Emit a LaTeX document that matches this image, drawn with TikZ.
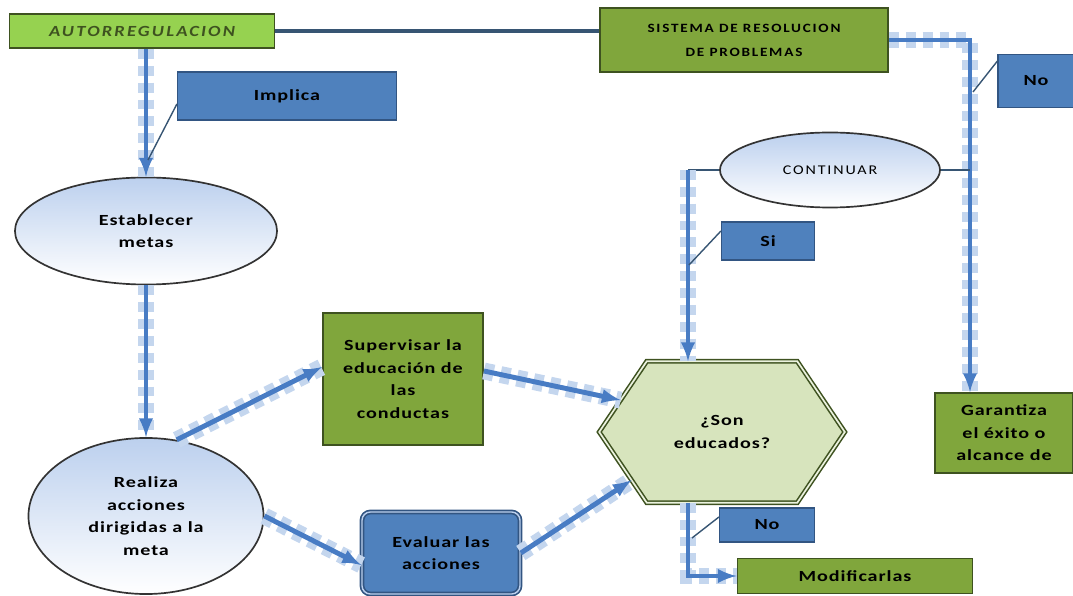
\documentclass[tikz,border=0pt]{standalone}
\usepackage{fontspec}
\setmainfont{Carlito}
\newfontfamily\boxfont{Carlito}[FakeStretch=1.3, LetterSpace=6.0]
\newfontfamily\capsfont{Carlito}[FakeStretch=1.2, LetterSpace=14.0]
\usetikzlibrary{shapes.geometric, calc}

\definecolor{olivebox}{RGB}{128,166,60}
\definecolor{olivedark}{RGB}{62,82,32}
\definecolor{limebox}{RGB}{150,210,80}
\definecolor{bluefill}{RGB}{79,129,189}
\definecolor{bluedark}{RGB}{50,85,130}
\definecolor{flowblue}{RGB}{72,124,196}
\definecolor{flowshade}{RGB}{196,214,238}
\definecolor{hexfill}{RGB}{215,228,189}
\definecolor{ellblue}{RGB}{188,208,238}
\definecolor{linkgray}{RGB}{55,85,115}

\begin{document}
\begin{tikzpicture}[x=0.025cm, y=-0.025cm, >=latex,
    greenrect/.style={rectangle, draw=olivedark, line width=1.3pt, fill=olivebox,
        font=\boxfont\bfseries\fontsize{11}{16}\selectfont, align=center},
    bluerect/.style={rectangle, draw=bluedark, line width=0.8pt, fill=bluefill,
        font=\boxfont\bfseries\fontsize{11}{16}\selectfont, align=center},
    goal/.style={ellipse, draw=black!80, line width=1.2pt, top color=ellblue,
        bottom color=white, font=\boxfont\bfseries\fontsize{11}{16}\selectfont, align=center},
    flow/.style={->, draw=flowblue, line width=3.5pt,
        preaction={-, draw=flowshade, line width=12pt, dash pattern=on 7pt off 5pt}},
    callout/.style={draw=linkgray, line width=1pt},
    link/.style={draw=linkgray, line width=2.5pt}]
    \useasboundingbox (0,0) rectangle (1073,596);

    % top row
    \node[greenrect, fill=limebox, text=olivedark, minimum width=6.625cm, minimum height=0.85cm,
        font=\capsfont\bfseries\itshape\fontsize{11}{12}\selectfont] (auto) at (142,31) {AUTORREGULACION};
    \node[greenrect, minimum width=7.2cm, minimum height=1.6cm,
        font=\capsfont\bfseries\fontsize{9}{17}\selectfont] (sis) at (744,40) {SISTEMA DE RESOLUCION\\DE PROBLEMAS};
    \node[bluerect, minimum width=5.475cm, minimum height=1.2cm] (impl) at (287,96) {Implica};
    \node[bluerect, minimum width=1.9cm, minimum height=1.325cm, text width=1.2cm] (notop) at (1036,81) {No};

    % left column
    \node[goal, minimum width=6.55cm, minimum height=2.675cm] (estab) at (146,231) {Establecer\\metas};
    \node[goal, minimum width=5.875cm, minimum height=3.9cm] (real) at (146,516) {Realiza\\acciones\\dirigidas a la\\meta};
    \node[greenrect, minimum width=4cm, minimum height=3.3cm] (super) at (403,379)
        {Supervisar la\\educación de\\las\\conductas};
    \node[bluerect, rounded corners=6pt, draw=bluedark, double=ellblue, double distance=1pt,
        line width=1.2pt, minimum width=3.95cm, minimum height=2.05cm] (eval) at (441,553) {Evaluar las\\acciones};

    % decision
    \node[minimum width=6.125cm, minimum height=3.525cm, align=center,
        font=\boxfont\bfseries\fontsize{11}{16}\selectfont] (son) at (722,432) {};
    \draw[draw=olivedark, double=hexfill!50!white, double distance=1.2pt, line width=1.1pt, fill=hexfill]
        (son.west) -- ([xshift=1.19cm]son.north west) coordinate (hexNW)
        -- ([xshift=-1.19cm]son.north east) -- (son.east)
        -- ([xshift=-1.19cm]son.south east) -- ([xshift=1.19cm]son.south west) coordinate (hexSW) -- cycle;
    \node[font=\boxfont\bfseries\fontsize{11}{16}\selectfont, align=center] (sonText) at (son) {¿Son\\educados?};

    % right part
    \node[goal, minimum width=5.5cm, minimum height=1.875cm,
        font=\capsfont\fontsize{9.5}{11}\selectfont] (cont) at (830,170) {CONTINUAR};
    \node[bluerect, minimum width=2.325cm, minimum height=0.95cm] (si) at (768,241) {Si};
    \node[greenrect, minimum width=3.45cm, minimum height=2cm] (gar) at (1004,433)
        {Garantiza\\el éxito o\\alcance de};
    \node[bluerect, minimum width=2.375cm, minimum height=0.85cm] (nobot) at (767,525) {No};
    \node[greenrect, minimum width=5.875cm, minimum height=0.875cm] (modif) at (855,576) {Modificarlas};

    \coordinate (contL) at (688,170);
    \coordinate (sisR) at (970,40);

    % connectors
    \draw[link] (auto.east) -- (auto.east -| sis.west);
    \draw[flow] (estab.north |- auto.south) -- (estab.north);
    \draw[flow] (estab.south) -- (real.north);
    \draw[flow] (real.68) -- ([yshift=0.3cm]super.west);
    \draw[flow] (real.east) -- ([yshift=-0.3cm]eval.west);
    \draw[flow] ([yshift=0.2cm]super.east) -- ($(son.west)!0.45!(hexNW)$);
    \draw[flow] (eval.east) -- ($(son.west)!0.68!(hexSW)$);
    \draw[callout] (cont.west) -- (contL);
    \draw[flow] (contL) -- (contL |- son.north);
    \draw[flow] (sis.east) -- (sisR) -- (sisR |- gar.north);
    \draw[callout] (cont.east) -- (cont.east -| sisR);
    \draw[flow] (contL |- son.south) |- (modif.west);

    % callout lines
    \draw[callout] ([yshift=-0.2cm]impl.west) -- (148,160);
    \draw[callout] ([yshift=0.5cm]notop.west) -- (973,92);
    \draw[callout] ([yshift=0.25cm]si.west) -- (689,265);
    \draw[callout] ([yshift=0.2cm]nobot.west) -- (692,538);
\end{tikzpicture}
\end{document}
